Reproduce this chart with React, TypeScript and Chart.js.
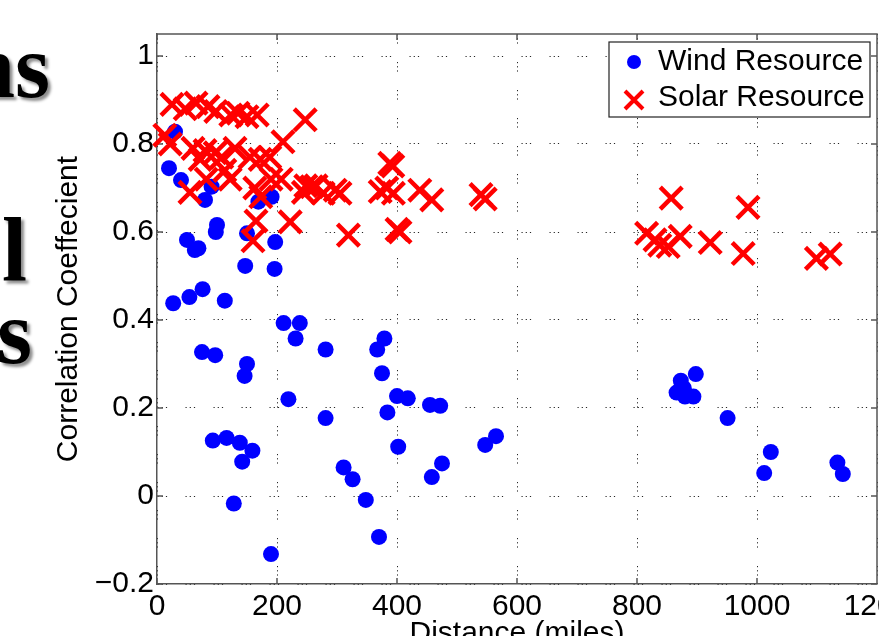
import React, { useEffect, useRef } from "react";
import { Chart, registerables } from "chart.js";

Chart.register(...registerables);

// ---------- data ----------
const windDistance = [
  30, 20, 40, 91, 80, 169, 191, 100, 98, 150, 50, 69, 63, 197, 147, 196, 27, 54, 76, 113,
  211, 238, 231, 281, 75, 97, 150, 146, 219, 281, 93, 116, 138, 159, 142, 128, 190,
  379, 367, 375, 400, 418, 455, 472, 384, 402, 311, 326, 475, 458, 547, 565, 348, 370,
  898, 873, 866, 880, 894, 878, 951, 1023, 1012, 1134, 1143,
];
const windCorrelation = [
  0.828, 0.745, 0.718, 0.703, 0.673, 0.669, 0.68, 0.616, 0.6, 0.597, 0.582, 0.563, 0.559, 0.577, 0.523, 0.516, 0.438, 0.452, 0.47, 0.444,
  0.393, 0.393, 0.358, 0.333, 0.327, 0.32, 0.3, 0.273, 0.22, 0.177, 0.126, 0.132, 0.121, 0.103, 0.078, -0.017, -0.132,
  0.358, 0.333, 0.279, 0.227, 0.222, 0.207, 0.205, 0.19, 0.112, 0.065, 0.038, 0.074, 0.043, 0.116, 0.136, -0.009, -0.093,
  0.277, 0.262, 0.235, 0.226, 0.226, 0.245, 0.177, 0.1, 0.052, 0.076, 0.05,
];

const solarDistance = [
  25, 47, 65, 85, 98, 123, 135, 150, 167, 247,
  13, 22, 60, 80, 97, 108, 130, 155, 172, 188, 210, 72,
  55, 82, 113, 122, 163, 173, 190, 207, 248, 265, 244, 258, 277, 297, 305, 372, 383, 394, 388, 393, 438, 458, 540, 547,
  165, 222, 160, 319, 400, 405,
  857, 985, 816, 830, 838, 852, 872, 922, 977, 1099, 1122,
];
const solarCorrelation = [
  0.89, 0.88, 0.893, 0.885, 0.874, 0.866, 0.87, 0.862, 0.866, 0.855,
  0.82, 0.8, 0.79, 0.785, 0.78, 0.77, 0.79, 0.77, 0.765, 0.77, 0.805, 0.765,
  0.69, 0.72, 0.74, 0.72, 0.7, 0.68, 0.72, 0.72, 0.705, 0.705, 0.69, 0.703, 0.688, 0.695, 0.688, 0.692, 0.7, 0.688, 0.756, 0.75, 0.695, 0.673, 0.685, 0.675,
  0.625, 0.623, 0.58, 0.593, 0.606, 0.6,
  0.677, 0.656, 0.597, 0.582, 0.57, 0.567, 0.59, 0.576, 0.551, 0.54, 0.55,
];

const xTickValues = [0, 200, 400, 600, 800, 1000, 1200];
const xTickLabels = ["0", "200", "400", "600", "800", "1000", "1200"];
const yTickValues = [-0.2, 0, 0.2, 0.4, 0.6, 0.8, 1];
const yTickLabels = ["\u22120.2", "0", "0.2", "0.4", "0.6", "0.8", "1"];
const seriesNames = ["Wind Resource", "Solar Resource"];
const xAxisTitle = "Distance (miles)";
const yAxisTitle = "Correlation Coeffecient";
const slideFragments = ["ns", "l", "s"];

// ---------- styling ----------
const FONT = '"Liberation Sans", Arial, Helvetica, sans-serif';
const AXIS_COLOR = "#555555";
const WIND_COLOR = "#0000ff";
const SOLAR_COLOR = "#ff0000";
const CANVAS_W = 940;
const CANVAS_H = 700;

function labelFor(values: number[], labels: string[], v: number) {
  let best = 0;
  for (let i = 1; i < values.length; i++) {
    if (Math.abs(values[i] - v) < Math.abs(values[best] - v)) best = i;
  }
  return labels[best];
}

const matlabFrame = {
  id: "matlabFrame",
  beforeDatasetsDraw(chart: any) {
    const { ctx, chartArea: a, scales } = chart;
    const tl = 6;
    ctx.save();
    ctx.strokeStyle = AXIS_COLOR;
    ctx.lineWidth = 1.5;
    ctx.beginPath();
    ctx.moveTo(a.left, a.top);
    ctx.lineTo(a.right, a.top);
    ctx.lineTo(a.right, a.bottom);
    xTickValues.forEach((v) => {
      const x = scales.x.getPixelForValue(v);
      ctx.moveTo(x, a.bottom);
      ctx.lineTo(x, a.bottom - tl);
      ctx.moveTo(x, a.top);
      ctx.lineTo(x, a.top + tl);
    });
    yTickValues.forEach((v) => {
      const y = scales.y.getPixelForValue(v);
      ctx.moveTo(a.left, y);
      ctx.lineTo(a.left + tl, y);
      ctx.moveTo(a.right, y);
      ctx.lineTo(a.right - tl, y);
    });
    ctx.stroke();
    ctx.restore();
  },
  afterDatasetsDraw(chart: any) {
    const { ctx, chartArea: a } = chart;
    const bw = 261;
    const bh = 75;
    const bx = a.right - 268;
    const by = a.top + 8;
    ctx.save();
    ctx.fillStyle = "#ffffff";
    ctx.fillRect(bx, by, bw, bh);
    ctx.strokeStyle = "#222222";
    ctx.lineWidth = 1.2;
    ctx.strokeRect(bx, by, bw, bh);

    const mx = bx + 25;
    const y1 = by + 20;
    const y2 = by + 58;
    ctx.fillStyle = WIND_COLOR;
    ctx.beginPath();
    ctx.arc(mx, y1, 7, 0, Math.PI * 2);
    ctx.fill();
    ctx.strokeStyle = SOLAR_COLOR;
    ctx.lineWidth = 4;
    const h = 9;
    ctx.beginPath();
    ctx.moveTo(mx - h, y2 - h);
    ctx.lineTo(mx + h, y2 + h);
    ctx.moveTo(mx + h, y2 - h);
    ctx.lineTo(mx - h, y2 + h);
    ctx.stroke();

    ctx.fillStyle = "#000000";
    ctx.font = `30px ${FONT}`;
    ctx.textAlign = "left";
    ctx.textBaseline = "middle";
    ctx.fillText(seriesNames[0], bx + 49, y1);
    ctx.fillText(seriesNames[1], bx + 49, y2 - 2);
    ctx.restore();
  },
};

function ScatterChart() {
  const ref = useRef<HTMLCanvasElement | null>(null);

  useEffect(() => {
    if (!ref.current) return;
    const windPoints = windDistance.map((d, i) => ({ x: d, y: windCorrelation[i] }));
    const solarPoints = solarDistance.map((d, i) => ({ x: d, y: solarCorrelation[i] }));

    const gridDash = [1.2, 3, 1.2, 3, 1.2, 18.4];

    const chart = new Chart(ref.current, {
      type: "scatter",
      data: {
        datasets: [
          {
            label: seriesNames[0],
            data: windPoints,
            pointStyle: "circle",
            pointRadius: 8,
            pointHoverRadius: 8,
            backgroundColor: WIND_COLOR,
            borderColor: WIND_COLOR,
            borderWidth: 0,
            order: 1,
            clip: false as any,
          },
          {
            label: seriesNames[1],
            data: solarPoints,
            pointStyle: "crossRot",
            pointRadius: 15.5,
            pointHoverRadius: 15.5,
            backgroundColor: SOLAR_COLOR,
            borderColor: SOLAR_COLOR,
            borderWidth: 4.5,
            order: 0,
            clip: false as any,
          },
        ],
      },
      options: {
        responsive: false,
        animation: false,
        devicePixelRatio: 1,
        events: [],
        layout: { padding: { left: 0, top: 34, right: CANVAS_W - 877, bottom: 36 } },
        plugins: {
          legend: { display: false },
          tooltip: { enabled: false },
          title: { display: false },
        },
        scales: {
          x: {
            type: "linear",
            min: 0,
            max: 1200,
            afterBuildTicks: (scale: any) => {
              scale.ticks = xTickValues.map((v) => ({ value: v }));
            },
            afterFit: (scale: any) => {
              scale.height = 80;
              scale.paddingLeft = 0;
              scale.paddingRight = 0;
            },
            ticks: {
              autoSkip: false,
              maxRotation: 0,
              padding: 5,
              color: "#000000",
              font: { family: FONT, size: 30 },
              callback: (v: any) => labelFor(xTickValues, xTickLabels, Number(v)),
            },
            grid: {
              drawTicks: false,
              color: "rgba(0,0,0,0.85)",
              lineWidth: 1,
            },
            border: { display: true, color: AXIS_COLOR, width: 1.5, dash: gridDash },
            title: {
              display: true,
              text: xAxisTitle,
              color: "#000000",
              font: { family: FONT, size: 30 },
              padding: { top: 0, bottom: 12 },
            },
          },
          y: {
            type: "linear",
            min: -0.2,
            max: 1.05,
            afterBuildTicks: (scale: any) => {
              scale.ticks = yTickValues.map((v) => ({ value: v }));
            },
            afterFit: (scale: any) => {
              scale.width = 157;
              scale.paddingTop = 0;
              scale.paddingBottom = 0;
            },
            ticks: {
              autoSkip: false,
              padding: 3,
              color: "#000000",
              font: { family: FONT, size: 30 },
              callback: (v: any) => labelFor(yTickValues, yTickLabels, Number(v)),
            },
            grid: {
              drawTicks: false,
              color: "rgba(0,0,0,0.85)",
              lineWidth: 1,
            },
            border: { display: true, color: AXIS_COLOR, width: 1.5, dash: gridDash },
            title: {
              display: true,
              text: yAxisTitle,
              color: "#000000",
              font: { family: FONT, size: 30 },
              padding: { top: 51, bottom: 0 },
            },
          },
        },
      },
      plugins: [matlabFrame],
    } as any);

    return () => chart.destroy();
  }, []);

  return (
    <canvas
      ref={ref}
      width={CANVAS_W}
      height={CANVAS_H}
      style={{ position: "absolute", left: 0, top: 0, width: CANVAS_W, height: CANVAS_H }}
    />
  );
}

export default function App() {
  const serif = '"Liberation Serif", "Times New Roman", Times, serif';
  const shadow = "3px 3px 3px rgba(0,0,0,0.45)";
  const frag = (text: string, rightEdge: number, baseline: number, size: number) => (
    <div
      key={text + baseline}
      style={{
        position: "absolute",
        right: 879 - rightEdge,
        top: baseline - 0.8375 * size,
        fontFamily: serif,
        fontWeight: "bold",
        fontSize: size,
        lineHeight: 1,
        whiteSpace: "nowrap",
        color: "#000",
        textShadow: shadow,
      }}
    >
      {text}
    </div>
  );
  return (
    <div
      style={{
        position: "fixed",
        left: 0,
        top: 0,
        width: 879,
        height: 636,
        overflow: "hidden",
        background: "#ffffff",
      }}
    >
      {frag(slideFragments[0], 50, 97, 90)}
      {frag(slideFragments[1], 27, 280, 90)}
      {frag(slideFragments[2], 32, 363, 90)}
      <ScatterChart />
    </div>
  );
}
